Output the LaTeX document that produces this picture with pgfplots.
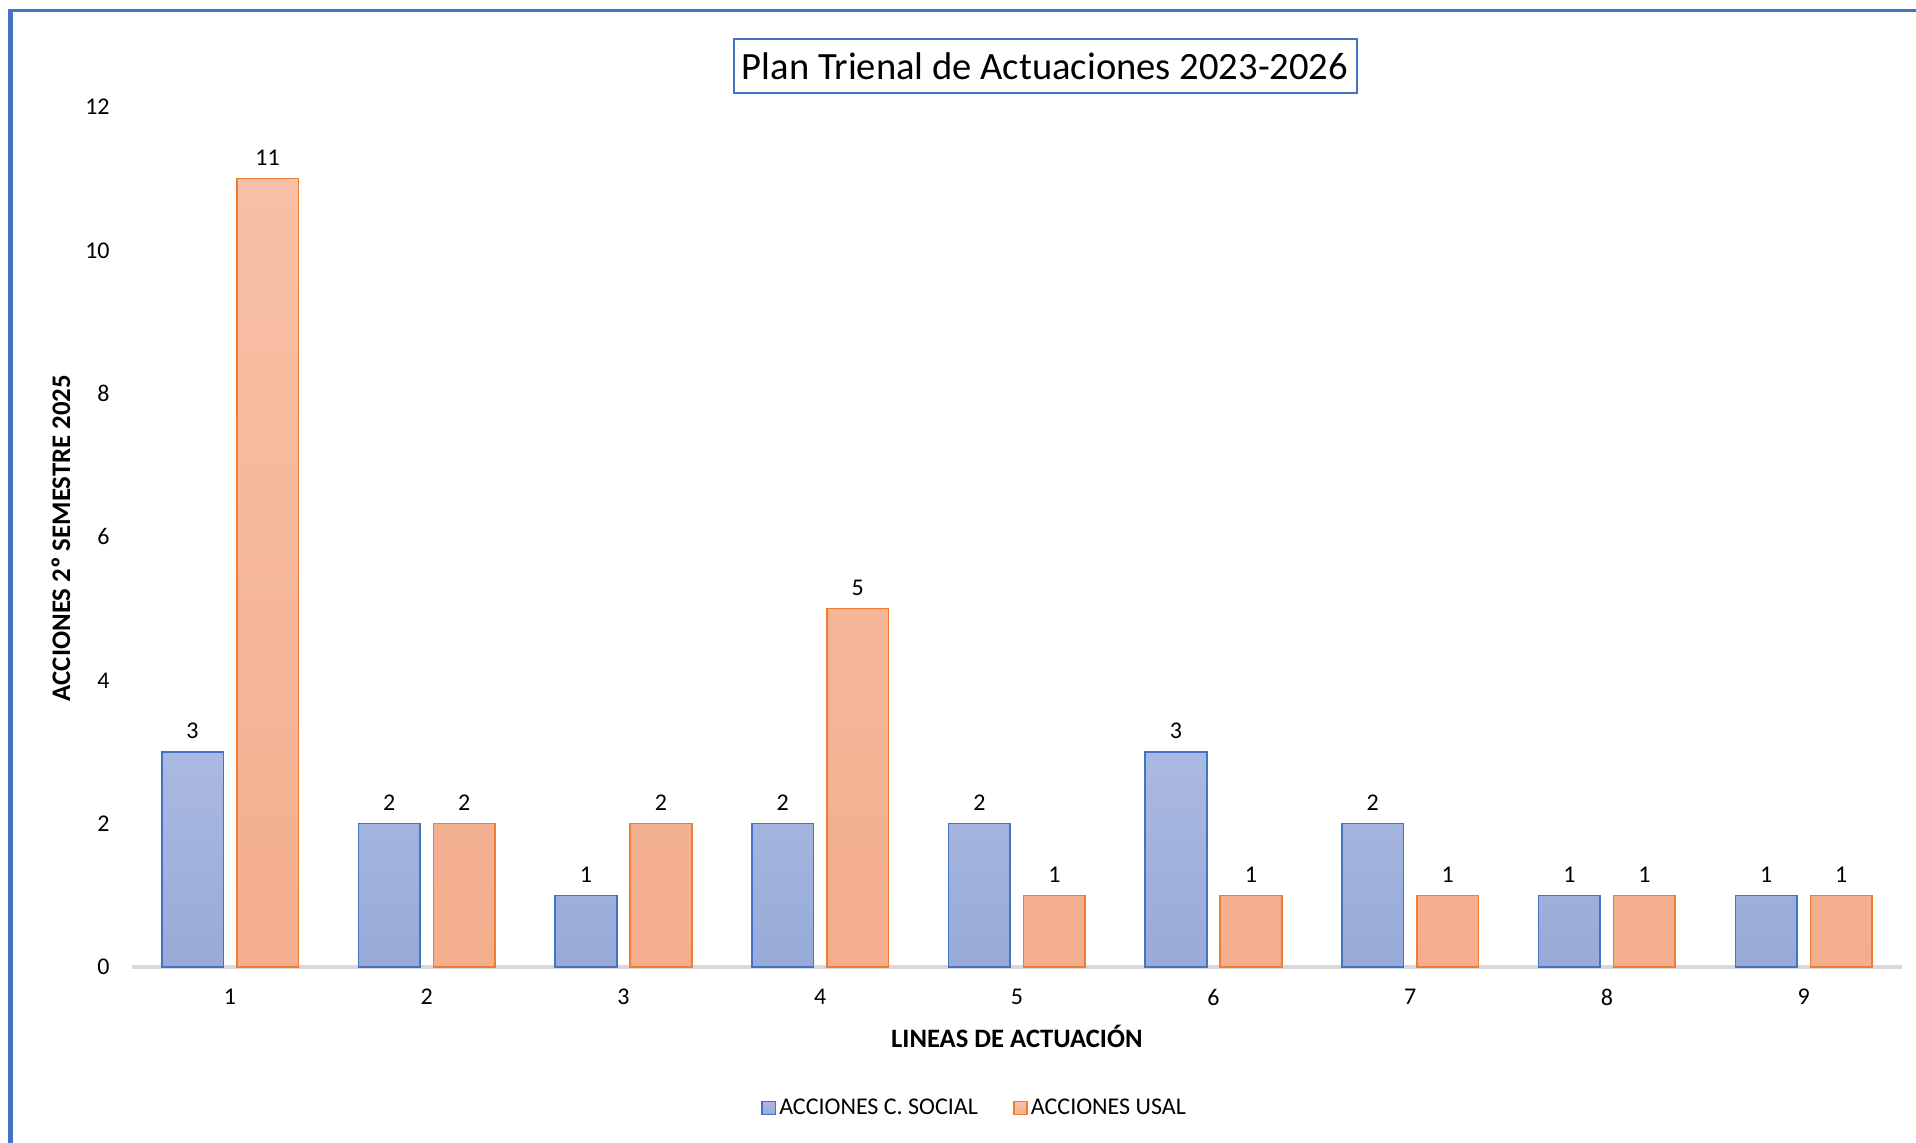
\documentclass[border=0pt]{standalone}
\usepackage{fontspec}
\setmainfont{Carlito}
\usepackage{pgfplots}
\pgfplotsset{compat=1.18}
\definecolor{bordblue}{HTML}{4472C4}
\definecolor{bordorange}{HTML}{ED7D31}
\definecolor{bluetop}{HTML}{AAB9E1}
\definecolor{bluebot}{HTML}{97AAD8}
\definecolor{orangetop}{HTML}{F8C0A6}
\definecolor{orangebot}{HTML}{F3AE8D}
\definecolor{axisgray}{HTML}{D9D9D9}
\begin{document}
\begin{tikzpicture}
\useasboundingbox (0,0) rectangle (958pt,571.5pt);
% outer frame (partly visible)
\draw[bordblue, line width=2.4pt] (5.4pt,0pt) -- (5.4pt,566.25pt);
\draw[bordblue, line width=1.5pt] (4.2pt,566.25pt) -- (958pt,566.25pt);
% title
\node[draw=bordblue, line width=1pt, minimum width=311.5pt, minimum height=27pt, inner sep=0pt,
      font=\fontsize{19.3}{23}\selectfont] at (522.5pt,538.5pt) {Plan Trienal de Actuaciones 2023-2026};
\begin{axis}[
  at={(65.85pt,88pt)}, anchor=south west,
  scale only axis,
  width=885.15pt, height=430pt,
  ybar=6.7pt, bar width=30.8pt,
  xmin=0.5, xmax=9.5,
  ymin=0, ymax=12,
  xtick={1,2,3,4,5,6,7,8,9},
  ytick={0,2,4,6,8,10,12},
  major tick length=0pt,
  axis y line=none,
  axis x line*=bottom,
  x axis line style={axisgray, line width=1.8pt, -},
  axis line style={-},
  clip=false,
  /pgf/number format/assume math mode=true,
  tick label style={font=\fontsize{12}{14}\selectfont, text=black},
  xticklabel style={anchor=center, yshift=-15pt},
  nodes near coords,
  every node near coord/.append style={font=\fontsize{12}{14}\selectfont, anchor=center, yshift=10.5pt, text=black},
  xlabel={\textbf{LINEAS DE ACTUACIÓN}},
  xlabel style={at={(rel axis cs:0.5,-0.0802)}, anchor=center, font=\fontsize{13.3}{15}\selectfont},
  legend style={at={(rel axis cs:0.4764,-0.164)}, anchor=center, draw=none, fill=none,
     font=\fontsize{12}{14}\selectfont, legend columns=2,
     /tikz/every even column/.append style={column sep=16pt},
     nodes={inner sep=1.5pt}},
  legend image code/.code={\draw[#1, line width=0.8pt] (0pt,-3.3pt) rectangle (6.7pt,3.3pt);},
]
\addplot[draw=bordblue, line width=0.8pt, top color=bluetop, bottom color=bluebot]
  coordinates {(1,3) (2,2) (3,1) (4,2) (5,2) (6,3) (7,2) (8,1) (9,1)};
\addplot[draw=bordorange, line width=0.8pt, top color=orangetop, bottom color=orangebot]
  coordinates {(1,11) (2,2) (3,2) (4,5) (5,1) (6,1) (7,1) (8,1) (9,1)};
\legend{ACCIONES C. SOCIAL, ACCIONES USAL}
\end{axis}
\begin{axis}[
  at={(65.85pt,88pt)}, anchor=south west,
  scale only axis,
  width=885.15pt, height=430pt,
  xmin=0.5, xmax=9.5, ymin=0, ymax=12,
  ytick={0,2,4,6,8,10,12},
  xtick=\empty,
  major tick length=0pt,
  axis x line=none,
  axis y line*=left,
  y axis line style={draw=none},
  clip=false,
  /pgf/number format/assume math mode=true,
  yticklabel style={font=\fontsize{12}{14}\selectfont, anchor=east, xshift=-7.5pt},
  ylabel={\textbf{ACCIONES 2º SEMESTRE 2025}},
  ylabel style={at={(rel axis cs:-0.0399,0.4988)}, anchor=center, font=\fontsize{13.4}{15}\selectfont},
]
\addplot[draw=none] coordinates {(1,0)};
\end{axis}
\end{tikzpicture}
\end{document}
